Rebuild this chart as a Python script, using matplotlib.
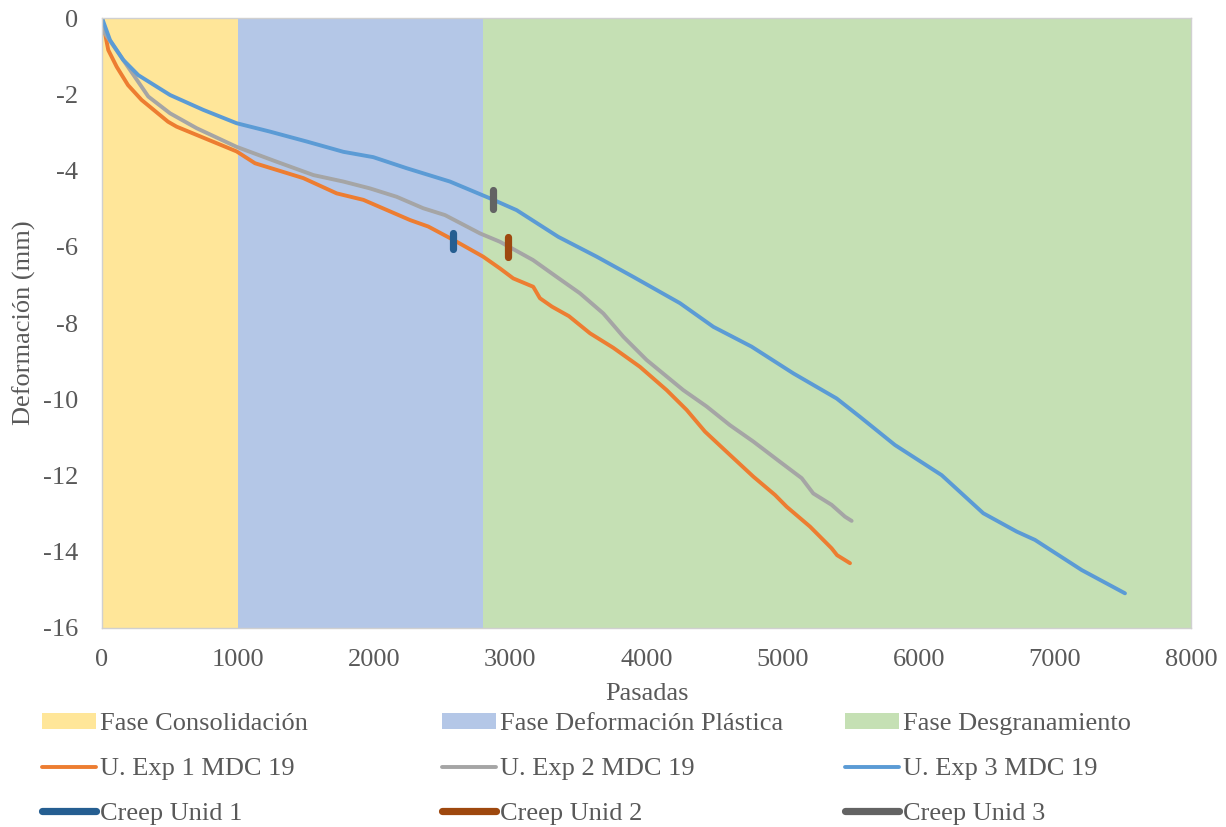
import matplotlib
matplotlib.use("Agg")
import matplotlib.pyplot as plt
from matplotlib.patches import Patch
from matplotlib.lines import Line2D

# Phase boundaries (passes)
phase_names = ["Fase Consolidación", "Fase Deformación Plástica", "Fase Desgranamiento"]
phase_edges = [0, 1000, 2800, 8000]
phase_colors = ["#FFE699", "#B4C7E7", "#C5E0B4"]

# Deformation curves
exp1_x = [0, 22, 46, 108, 191, 291, 485, 548, 989, 1124, 1479, 1724, 1920, 2263, 2397, 2581,
          2800, 2924, 3021, 3168, 3217, 3305, 3430, 3585, 3756, 3952, 4148, 4295, 4430, 4589,
          4785, 4944, 5030, 5201, 5360, 5400, 5495]
exp1_y = [0, -0.4, -0.84, -1.28, -1.76, -2.15, -2.72, -2.85, -3.5, -3.81, -4.2, -4.6, -4.77, -5.3,
          -5.47, -5.82, -6.26, -6.57, -6.83, -7.05, -7.35, -7.57, -7.82, -8.27, -8.65, -9.15, -9.76,
          -10.28, -10.85, -11.38, -12.03, -12.51, -12.82, -13.34, -13.91, -14.09, -14.3]

exp2_x = [0, 20, 156, 340, 500, 695, 989, 1283, 1553, 1773, 1969, 2165, 2360, 2520, 2777, 2924,
          3167, 3340, 3511, 3683, 3830, 4001, 4270, 4442, 4613, 4785, 4980, 5140, 5225, 5360,
          5458, 5507]
exp2_y = [0, -0.4, -1.1, -2.06, -2.5, -2.89, -3.38, -3.77, -4.12, -4.29, -4.47, -4.69, -4.99, -5.17,
          -5.65, -5.87, -6.35, -6.79, -7.22, -7.75, -8.36, -8.97, -9.76, -10.19, -10.68, -11.11,
          -11.64, -12.07, -12.47, -12.77, -13.08, -13.19]

exp3_x = [0, 59, 156, 267, 500, 744, 989, 1234, 1504, 1773, 1993, 2238, 2556, 2850, 3046, 3352,
          3634, 3903, 4246, 4491, 4772, 5078, 5397, 5568, 5825, 6168, 6474, 6719, 6854, 7197, 7515]
exp3_y = [0, -0.58, -1.1, -1.5, -2.02, -2.41, -2.76, -2.98, -3.24, -3.51, -3.65, -3.94, -4.29,
          -4.73, -5.04, -5.74, -6.26, -6.79, -7.48, -8.1, -8.62, -9.32, -9.98, -10.46, -11.2,
          -11.99, -12.99, -13.47, -13.69, -14.48, -15.09]

series_names = ["U. Exp 1 MDC 19", "U. Exp 2 MDC 19", "U. Exp 3 MDC 19"]
series_colors = ["#ED7D31", "#A5A5A5", "#5B9BD5"]

# Creep onset markers: (passes, top, bottom)
creep_names = ["Creep Unid 1", "Creep Unid 2", "Creep Unid 3"]
creep_x = [2581, 2985, 2874]
creep_top = [-5.65, -5.75, -4.51]
creep_bottom = [-6.05, -6.26, -5.02]
creep_colors = ["#255E91", "#9E480E", "#636363"]

x_ticks = list(range(0, 8001, 1000))
y_ticks = list(range(0, -17, -2))

plt.rcParams["font.family"] = ["Liberation Serif", "DejaVu Serif"]
text_color = "#595959"
fs = 19

fig = plt.figure(figsize=(12.26, 8.27), dpi=100)
W, H = 1226, 827
ax = fig.add_axes([102 / W, 1 - 628 / H, (1191 - 102) / W, (628 - 18) / H])

for i in range(3):
    ax.axvspan(phase_edges[i], phase_edges[i + 1], color=phase_colors[i], lw=0, zorder=0)

lw = 2.8
creep_lw = 5.2
for xs, ys, c in zip([exp1_x, exp2_x, exp3_x], [exp1_y, exp2_y, exp3_y], series_colors):
    ax.plot(xs, ys, color=c, lw=lw, solid_joinstyle="round", solid_capstyle="round", zorder=2)

for cx, t, b, c in zip(creep_x, creep_top, creep_bottom, creep_colors):
    ax.plot([cx, cx], [t, b], color=c, lw=creep_lw, solid_capstyle="round", zorder=3)

ax.set_xlim(0, 8000)
ax.set_ylim(-16, 0)
ax.set_xticks(x_ticks)
ax.set_yticks(y_ticks)
ax.set_yticklabels([str(v) for v in y_ticks])
ax.tick_params(length=0, labelsize=fs, colors=text_color)
ax.tick_params(axis="y", pad=17)
ax.tick_params(axis="x", pad=15)
for s in ax.spines.values():
    s.set_color("#D0D0D0")
    s.set_linewidth(1.0)

ax.set_xlabel("Pasadas", fontsize=fs, color=text_color, labelpad=9)
ax.set_ylabel("Deformación (mm)", fontsize=fs, color=text_color, labelpad=5)

# Legend laid out in three columns
columns = [
    ([Patch(facecolor=phase_colors[0], edgecolor="none"),
      Line2D([], [], color=series_colors[0], lw=lw, solid_capstyle="round"),
      Line2D([], [], color=creep_colors[0], lw=creep_lw, solid_capstyle="round")],
     [phase_names[0], series_names[0], creep_names[0]], 42),
    ([Patch(facecolor=phase_colors[1], edgecolor="none"),
      Line2D([], [], color=series_colors[1], lw=lw, solid_capstyle="round"),
      Line2D([], [], color=creep_colors[1], lw=creep_lw, solid_capstyle="round")],
     [phase_names[1], series_names[1], creep_names[1]], 442),
    ([Patch(facecolor=phase_colors[2], edgecolor="none"),
      Line2D([], [], color=series_colors[2], lw=lw, solid_capstyle="round"),
      Line2D([], [], color=creep_colors[2], lw=creep_lw, solid_capstyle="round")],
     [phase_names[2], series_names[2], creep_names[2]], 845),
]
for handles, labels, xpix in columns:
    fig.legend(handles, labels, loc="center left",
               bbox_to_anchor=(xpix / W, 1 - 769 / H),
               frameon=False, fontsize=fs, borderpad=0, borderaxespad=0,
               handlelength=2.05, handleheight=0.53, handletextpad=0.15,
               labelspacing=0.86, labelcolor=text_color)

fig.savefig("out.png", dpi=100)
